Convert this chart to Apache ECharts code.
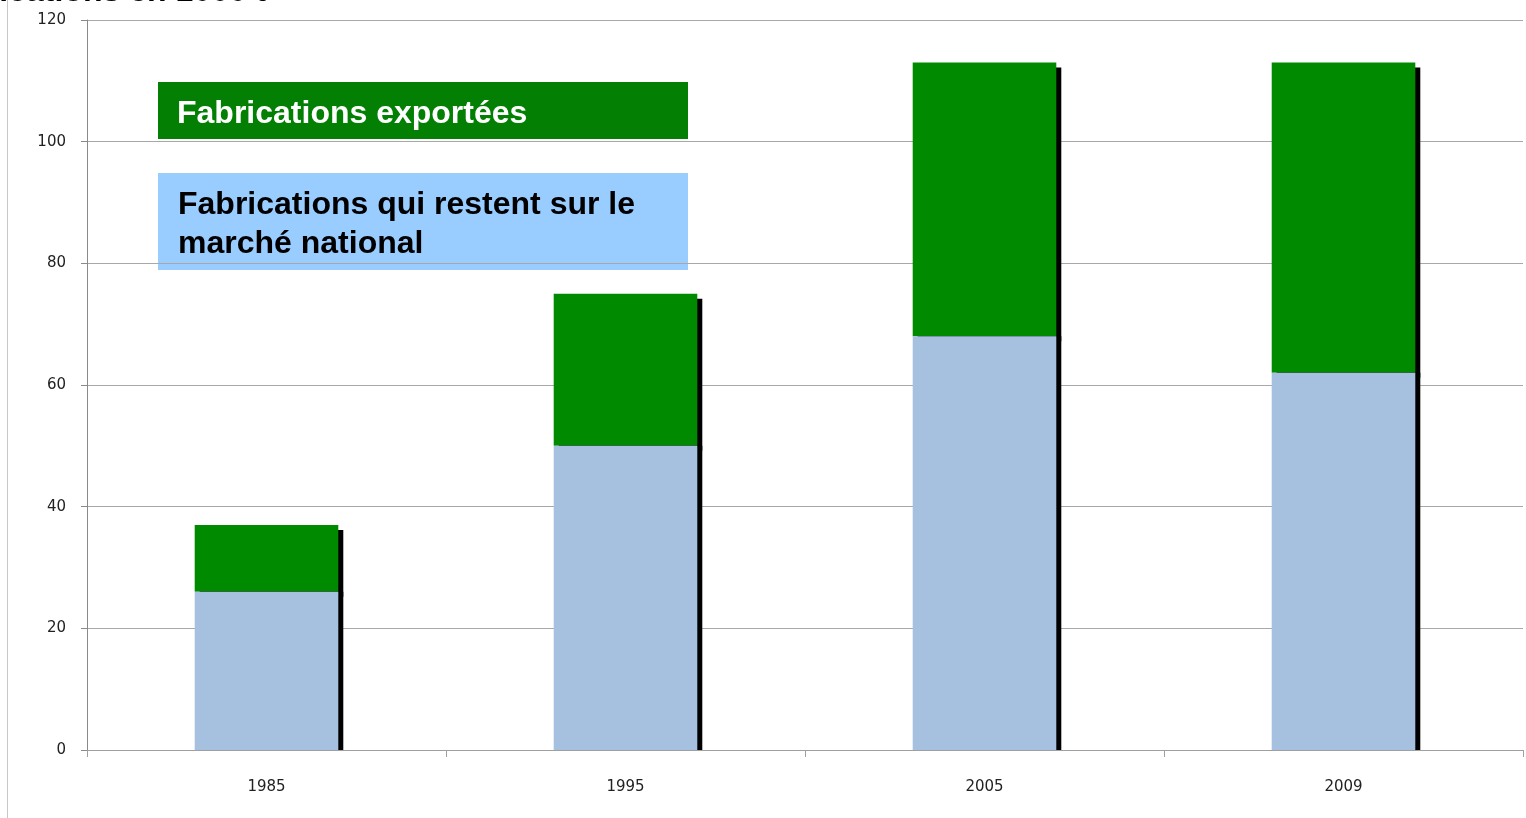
<!DOCTYPE html>
<html>
<head>
<meta charset="utf-8">
<script src="https://cdn.jsdelivr.net/npm/echarts@6/dist/echarts.min.js"></script>
<style>
  html, body { margin: 0; padding: 0; background: #fff; }
  #chart { width: 1526px; height: 818px; }
</style>
</head>
<body>
<div id="chart"></div>
<script>
// donnees (en 1000 t)
var annees = ['1985', '1995', '2005', '2009'];
var marcheNational = [26, 50, 68, 62];
var exportees = [11, 25, 45, 51];
var yTicks = { min: 0, max: 120, interval: 20 };

var nomExport = 'Fabrications exportées';
var nomNational = 'Fabrications qui restent sur le\nmarché national';

var chart = echarts.init(document.getElementById('chart'));
var option = {
  animation: false,
  grid: { left: 87, right: 3, top: 20, bottom: 68 },
  xAxis: {
    type: 'category',
    data: annees,
    axisLine: { lineStyle: { color: '#a0a0a0', width: 1 } },
    axisTick: { show: true, length: 7, lineStyle: { color: '#a0a0a0' } },
    axisLabel: { margin: 30, color: '#222', fontFamily: 'DejaVu Sans', fontSize: 15 }
  },
  yAxis: {
    type: 'value',
    min: yTicks.min,
    max: yTicks.max,
    interval: yTicks.interval,
    axisLine: { show: true, lineStyle: { color: '#8a8a8a' } },
    axisTick: { show: true, length: 6, lineStyle: { color: '#8a8a8a' } },
    axisLabel: { margin: 21, color: '#222', fontFamily: 'DejaVu Sans', fontSize: 15 },
    splitLine: { lineStyle: { color: '#a8a8a8', width: 1 } }
  },
  series: [
    {
      name: nomNational,
      type: 'bar',
      stack: 'total',
      barWidth: '40%',
      z: 3,
      data: marcheNational,
      itemStyle: {
        color: '#a6c1e0',
        shadowColor: '#000',
        shadowBlur: 0,
        shadowOffsetX: 5,
        shadowOffsetY: 0
      }
    },
    {
      name: nomExport,
      type: 'bar',
      stack: 'total',
      barWidth: '40%',
      z: 2,
      data: exportees,
      itemStyle: {
        color: '#008a00',
        shadowColor: '#000',
        shadowBlur: 0,
        shadowOffsetX: 5,
        shadowOffsetY: 5
      }
    }
  ],
  graphic: [
    // trait vertical gauche
    { type: 'line', shape: { x1: 7.5, y1: 0, x2: 7.5, y2: 818 }, style: { stroke: '#c8c8c8', lineWidth: 1 } },
    // titre coupe en haut
    {
      type: 'text', left: -70, top: -24,
      style: { text: 'Fabrications en 1000 t', font: 'bold 32px "Liberation Sans", Arial', fill: '#000' }
    },
    // legende
    { type: 'rect', shape: { x: 158, y: 82, width: 530, height: 57 }, style: { fill: '#038003' } },
    {
      type: 'text', x: 177, y: 114,
      style: { text: nomExport, font: 'bold 32px "Liberation Sans", Arial', fill: '#fff', verticalAlign: 'middle' }
    },
    { type: 'rect', shape: { x: 158, y: 173, width: 530, height: 97 }, style: { fill: '#99ccff' } },
    {
      type: 'text', x: 178, y: 186,
      style: { text: nomNational, font: 'bold 32px "Liberation Sans", Arial', lineHeight: 39, fill: '#000' }
    }
  ]
};
option && chart.setOption(option);
</script>
</body>
</html>
